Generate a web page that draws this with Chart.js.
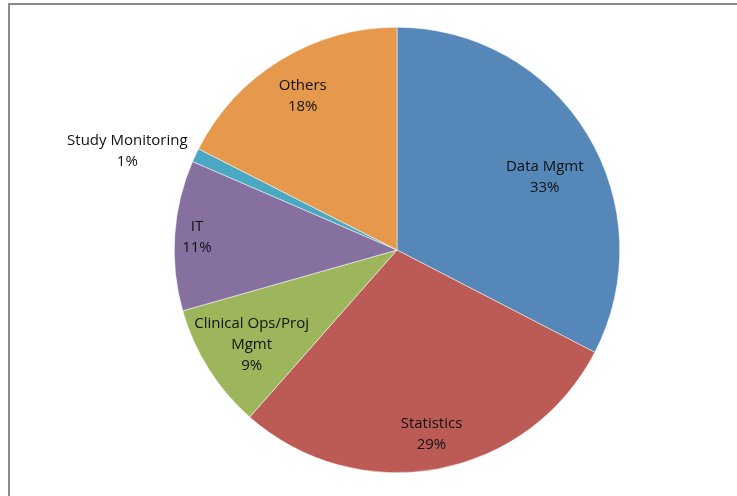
<!DOCTYPE html>
<html>
<head>
<meta charset="utf-8">
<script src="https://cdn.jsdelivr.net/npm/chart.js@4.4.1/dist/chart.umd.min.js"></script>
<style>
  html, body { margin: 0; padding: 0; background: #fff; overflow: hidden; }
  #wrap { position: relative; width: 737px; height: 496px; }
  #frame {
    position: absolute; left: 8px; top: 3px; width: 900px; height: 700px;
    border-left: 2px solid #8a8a8a; border-top: 2px solid #8a8a8a;
  }
  canvas { position: absolute; left: 0; top: 0; }
</style>
</head>
<body>
<div id="wrap">
  <div id="frame"></div>
  <canvas id="pieChart" width="737" height="496"></canvas>
</div>
<script>
// categories and share of each (percent)
var categories = ['Data Mgmt', 'Statistics', 'Clinical Ops/Proj Mgmt', 'IT', 'Study Monitoring', 'Others'];
var shares = [32.6, 28.9, 9.1, 10.9, 1.0, 17.5];

var sliceColors = ['#5587b9', '#bc5b55', '#9db65c', '#8670a0', '#4aa8c2', '#e6994c'];

// how label text is broken into lines
var labelLines = [['Data Mgmt'], ['Statistics'], ['Clinical Ops/Proj', 'Mgmt'], ['IT'], ['Study Monitoring'], ['Others']];
// label placement: fraction of radius, angle nudge (deg)
var labelRadius = [0.74, 0.84, 0.78, 0.90, 1.29, 0.81];
var labelNudge = [5, 0, -1, 0, -5, 0];

var sliceLabels = {
  id: 'sliceLabels',
  afterDatasetsDraw: function (chart) {
    var ctx = chart.ctx;
    var meta = chart.getDatasetMeta(0);
    var total = shares.reduce(function (a, b) { return a + b; }, 0);
    ctx.save();
    ctx.font = '15px "Open Sans", sans-serif';
    ctx.fillStyle = '#111111';
    ctx.textAlign = 'center';
    ctx.textBaseline = 'middle';
    meta.data.forEach(function (arc, i) {
      var mid = (arc.startAngle + arc.endAngle) / 2 + labelNudge[i] * Math.PI / 180;
      var r = arc.outerRadius * labelRadius[i];
      var cx = arc.x + Math.cos(mid) * r;
      var cy = arc.y + Math.sin(mid) * r;
      var lines = labelLines[i].concat([Math.round(shares[i] / total * 100) + '%']);
      var lh = 21;
      var y0 = cy - (lines.length - 1) * lh / 2;
      lines.forEach(function (t, k) {
        ctx.fillText(t, cx, y0 + k * lh);
      });
    });
    ctx.restore();
  }
};

new Chart(document.getElementById('pieChart'), {
  type: 'pie',
  data: {
    labels: categories,
    datasets: [
      {
        data: shares,
        backgroundColor: sliceColors,
        borderColor: '#ffffff',
        borderWidth: 0.5
      }
    ]
  },
  options: {
    responsive: false,
    animation: false,
    layout: { padding: { left: 174, right: 117, top: 27, bottom: 23 } },
    plugins: {
      legend: { display: false },
      tooltip: { enabled: false }
    }
  },
  plugins: [sliceLabels]
});
</script>
</body>
</html>
